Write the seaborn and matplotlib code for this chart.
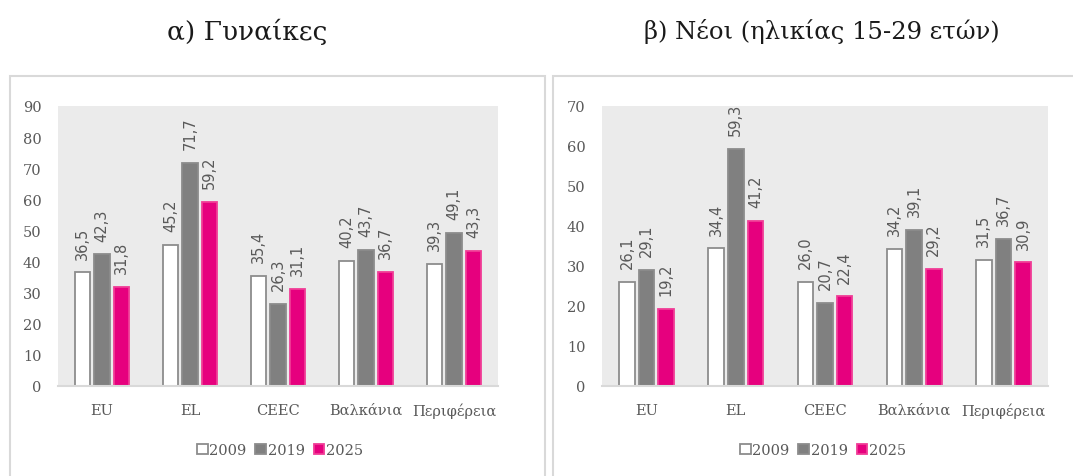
import matplotlib
matplotlib.use("Agg")
import matplotlib.pyplot as plt
import matplotlib.patches as mpatches
import seaborn as sns
import pandas as pd

categories = ["EU", "EL", "CEEC", "Βαλκάνια", "Περιφέρεια"]
years = ["2009", "2019", "2025"]

women_2009 = [36.5, 45.2, 35.4, 40.2, 39.3]
women_2019 = [42.3, 71.7, 26.3, 43.7, 49.1]
women_2025 = [31.8, 59.2, 31.1, 36.7, 43.3]

youth_2009 = [26.1, 34.4, 26.0, 34.2, 31.5]
youth_2019 = [29.1, 59.3, 20.7, 39.1, 36.7]
youth_2025 = [19.2, 41.2, 22.4, 29.2, 30.9]

titles = ["α) Γυναίκες", "β) Νέοι (ηλικίας 15-29 ετών)"]
y_max = [90, 70]

fills = ["#FFFFFF", "#808080", "#E6007E"]
edges = ["#8C8C8C", "#8C8C8C", "#F03C96"]
text_gray = "#595959"
serif = ["DejaVu Serif"]

sns.set_theme(style="white")
plt.rcParams["font.family"] = ["DejaVu Sans"]

fig = plt.figure(figsize=(10.73, 4.77), dpi=100)

# panel frames
for x0, w in [(10 / 1073, 535 / 1073), (553 / 1073, 530 / 1073)]:
    fig.patches.append(mpatches.Rectangle((x0, -0.05), w, (477 - 77) / 477 + 0.05,
                                          transform=fig.transFigure, fill=False,
                                          edgecolor="#D9D9D9", linewidth=1.5))

axes_pos = [[58 / 1073, 90 / 477, 440 / 1073, 280 / 477],
            [602 / 1073, 90 / 477, 446 / 1073, 280 / 477]]
data_sets = [[women_2009, women_2019, women_2025],
             [youth_2009, youth_2019, youth_2025]]
title_x = [247 / 1073, 822 / 1073]
title_size = [19, 17.5]
legend_x = [280 / 1073, 823 / 1073]

for pos, series, title, ymax, tx, ts, lx in zip(axes_pos, data_sets, titles, y_max,
                                                 title_x, title_size, legend_x):
    ax = fig.add_axes(pos)
    rows = []
    for yr, vals in zip(years, series):
        for c, v in zip(categories, vals):
            rows.append({"region": c, "year": yr, "value": v})
    df = pd.DataFrame(rows)
    sns.barplot(data=df, x="region", y="value", hue="year", hue_order=years,
                order=categories, palette=fills, saturation=1, width=0.66, gap=0.2,
                ax=ax, legend=False, errorbar=None)
    ax.set_facecolor("#EBEBEB")
    for i, cont in enumerate(ax.containers):
        for p in cont.patches:
            p.set_edgecolor(edges[i])
            p.set_linewidth(1.3)
        labels = [f"{v:.1f}".replace(".", ",") for v in series[i]]
        ax.bar_label(cont, labels=labels, rotation=90, padding=10,
                     fontsize=10.5, color=text_gray, family=["DejaVu Sans"])
    ax.set_ylim(0, ymax)
    ax.set_yticks(range(0, ymax + 1, 10))
    ax.set_xlim(-0.5, 4.5)
    ax.set_xlabel("")
    ax.set_ylabel("")
    for s in ["top", "right", "left"]:
        ax.spines[s].set_visible(False)
    ax.spines["bottom"].set_color("#D9D9D9")
    ax.spines["bottom"].set_linewidth(1.5)
    ax.tick_params(axis="both", length=0, labelsize=10.5, labelcolor=text_gray)
    ax.tick_params(axis="y", pad=12)
    ax.tick_params(axis="x", pad=12)
    for lab in ax.get_xticklabels() + ax.get_yticklabels():
        lab.set_family(serif)
    fig.text(tx, 1 - 32 / 477, title, ha="center", va="center",
             fontsize=ts, family=serif, color="#1A1A1A")
    handles = [mpatches.Patch(facecolor=f, edgecolor=e, linewidth=1.3, label=y)
               for f, e, y in zip(fills, edges, years)]
    fig.legend(handles=handles, loc="center", bbox_to_anchor=(lx, 1 - 451 / 477),
               ncol=3, frameon=False, handlelength=0.75, handleheight=0.75,
               handletextpad=0.1, columnspacing=0.6,
               prop={"family": serif, "size": 10.5}, labelcolor=text_gray)

fig.savefig("out.png", dpi=100)
